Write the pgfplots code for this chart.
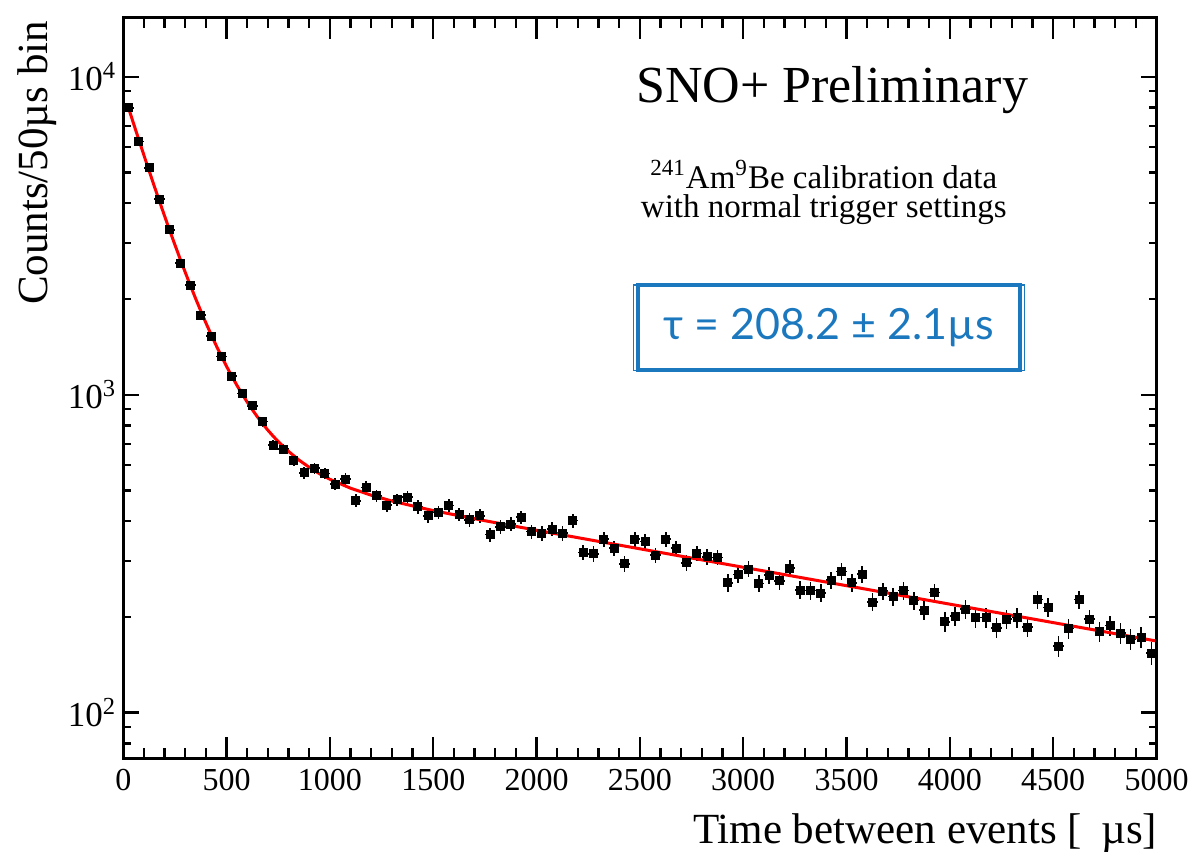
\documentclass[border=0pt]{standalone}
\usepackage{pgfplots}
\usepackage{pgfplotstable}
\usepackage{fontspec}
\setmainfont{Liberation Serif}
\newfontfamily\taufont{Lato}
\pgfplotsset{compat=1.18}
\definecolor{taublue}{RGB}{28,120,190}

\pgfplotstableread{
x y ey
25 7990 89.4
75 6250 79.1
125 5170 71.9
175 4125 64.2
225 3300 57.4
275 2590 50.9
325 2213 47.0
375 1781 42.2
425 1530 39.1
475 1317 36.3
525 1145 33.8
575 1010 31.8
625 923 30.4
675 823 28.7
725 695 26.4
775 675 26.0
825 623 25.0
875 568 23.8
925 587 24.2
975 566 23.8
1025 524 22.9
1075 542 23.3
1125 464 21.5
1175 511 22.6
1225 481 21.9
1275 450 21.2
1325 467 21.6
1375 476 21.8
1425 444 21.1
1475 416 20.4
1525 426 20.6
1575 448 21.2
1625 421 20.5
1675 404 20.1
1725 416 20.4
1775 363 19.1
1825 384 19.6
1875 392 19.8
1925 412 20.3
1975 371 19.3
2025 367 19.2
2075 378 19.4
2125 367 19.2
2175 402 20.0
2225 319 17.9
2275 316 17.8
2325 351 18.7
2375 329 18.1
2425 294 17.1
2475 351 18.7
2525 345 18.6
2575 313 17.7
2625 351 18.7
2675 329 18.1
2725 296 17.2
2775 317 17.8
2825 309 17.6
2875 308 17.5
2925 256 16.0
2975 272 16.5
3025 283 16.8
3075 255 16.0
3125 271 16.5
3175 260 16.1
3225 285 16.9
3275 243 15.6
3325 242 15.6
3375 238 15.4
3425 261 16.2
3475 278 16.7
3525 256 16.0
3575 273 16.5
3625 223 14.9
3675 241 15.5
3725 232 15.2
3775 242 15.6
3825 225 15.0
3875 210 14.5
3925 239 15.5
3975 193 13.9
4025 201 14.2
4075 212 14.6
4125 199 14.1
4175 199 14.1
4225 185 13.6
4275 197 14.0
4325 199 14.1
4375 186 13.6
4425 227 15.1
4475 214 14.6
4525 162 12.7
4575 184 13.6
4625 227 15.1
4675 197 14.0
4725 180 13.4
4775 188 13.7
4825 178 13.3
4875 170 13.0
4925 173 13.2
4975 154 12.4
}\datatable

\pgfplotstableread{
x y
20 8178
25 7990
50 7113
75 6340
100 5658
125 5057
150 4526
175 4058
200 3645
225 3280
250 2958
275 2674
300 2424
325 2202
350 2006
375 1834
400 1681
425 1546
450 1426
475 1320
500 1227
525 1144
550 1070
575 1005
600 947
625 896
650 850
675 809
700 773
725 741
750 712
775 686
800 663
850 623
900 591
950 564
1000 542
1100 508
1200 483
1300 463
1400 447
1500 432
1750 401.5
2000 374.8
2500 327.6
3000 286.6
3500 250.8
4000 219.4
4500 192.0
5000 168.0
}\fittable

\begin{document}
\begin{tikzpicture}
\begin{axis}[
  name=main,
  at={(0,0)}, anchor=south west,
  scale only axis, width=516.6pt, height=370.75pt,
  xmin=0, xmax=5000,
  ymode=log, log basis y=10, ymin=71.5, ymax=15360,
  axis line style={line width=1.5pt},
  tick align=inside,
  xtick={0,500,...,5000}, minor x tick num=4,
  major tick length=11pt, minor tick length=5.5pt,
  ytick=\empty,
  every tick/.style={black, line width=1.2pt},
  xticklabel style={font=\fontsize{16}{16}\selectfont, yshift=-1.5pt},
  /pgf/number format/assume math mode=true,
  /pgf/number format/1000 sep={},
]
\addplot[only marks, mark=square*, mark size=2pt, black,
  error bars/.cd, y dir=both, y explicit, x dir=both, x fixed=25,
  error bar style={line width=0.8pt}, error mark=none]
  table[x=x, y=y, y error=ey]{\datatable};
\addplot[red, line width=1.5pt, no marks] table[x=x, y=y]{\fittable};

\node[anchor=base, font=\fontsize{26}{30}\selectfont] at (rel axis cs:0.686,0.8847) {SNO+ Preliminary};
\node[anchor=base, inner sep=0pt, font=\fontsize{16.5}{18}\selectfont] at (rel axis cs:0.678,0.7700) {\textsuperscript{241}Am\textsuperscript{9}Be calibration data};
\node[anchor=base, inner sep=0pt, font=\fontsize{16.5}{18}\selectfont] at (rel axis cs:0.678,0.7296) {with normal trigger settings};

\node[draw=taublue, line width=2pt, minimum width=191pt, minimum height=42.5pt, text=taublue, font=\taufont\fontsize{21.5}{24}\selectfont] (taubox) at (rel axis cs:0.683,0.5813) {τ = 208.2 ± 2.1µs};
\draw[taublue, line width=0.8pt] ([shift={(-1.2pt,1.0pt)}]taubox.south west) rectangle ([shift={(1.2pt,-0.8pt)}]taubox.north east);
\end{axis}
\begin{axis}[
  at={(0,0)}, anchor=south west,
  scale only axis, width=516.6pt, height=370.75pt,
  xmin=0, xmax=5000,
  ymode=log, log basis y=10, ymin=71.5, ymax=15360,
  axis line style={line width=1.5pt},
  tick align=inside,
  xtick=\empty,
  major tick length=8pt, minor tick length=4pt,
  every tick/.style={black, line width=1.2pt},
  yticklabel={10\textsuperscript{\pgfmathparse{int(round(\tick))}\pgfmathresult}},
  yticklabel style={font=\fontsize{17.5}{18}\selectfont},
]
\end{axis}
\node[rotate=90, anchor=base east, inner sep=0pt, font=\fontsize{21.5}{24}\selectfont] at ([xshift=-37.65pt, yshift=-1.5pt]main.north west) {Counts/50µs bin};
\node[anchor=base east, inner sep=0pt, font=\fontsize{21.5}{24}\selectfont] at ([xshift=0.5pt, yshift=-42pt]main.south east) {Time between events [\hspace{0.45em}µs]};
\pgfresetboundingbox
\path ([shift={(-61.65pt,-46pt)}]main.south west) rectangle ([shift={(19.75pt,8.75pt)}]main.north east);
\end{tikzpicture}
\end{document}
